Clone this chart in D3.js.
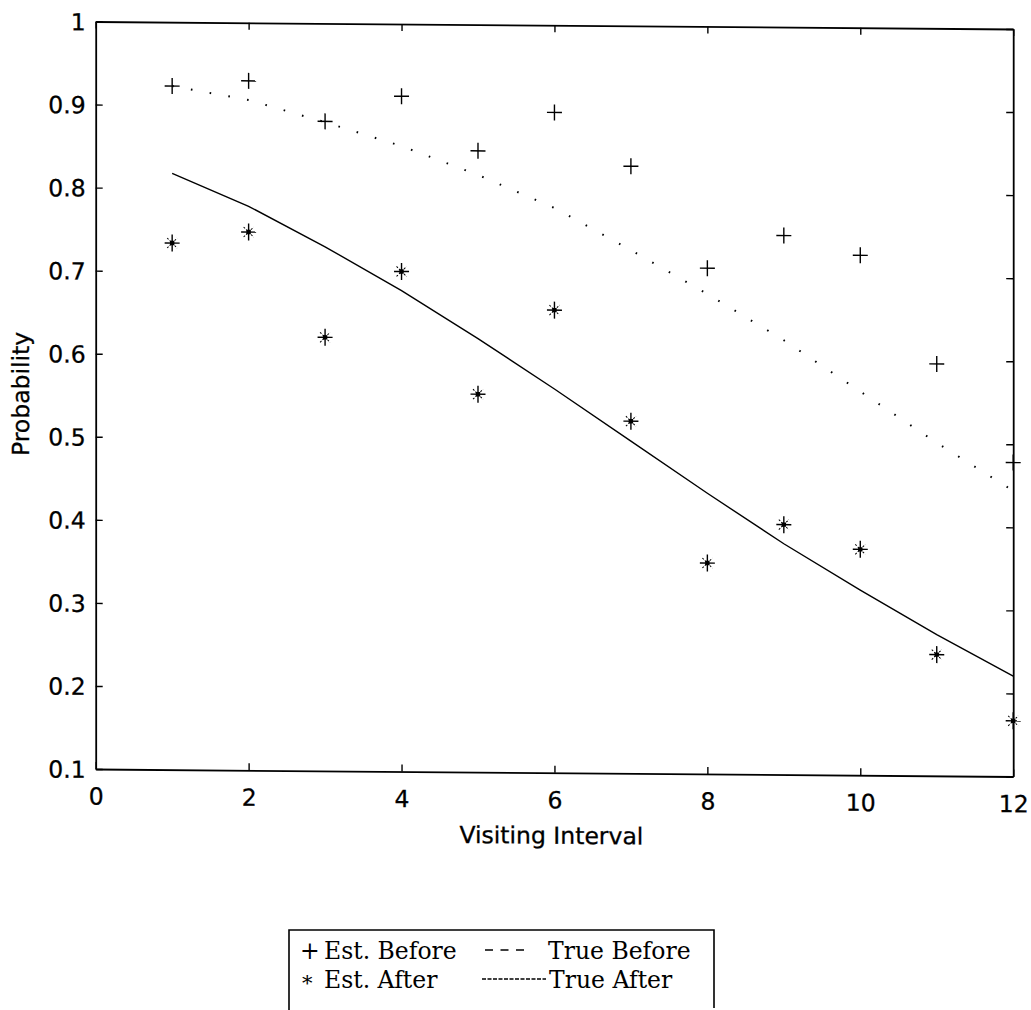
<!DOCTYPE html>
<html>
<head>
<meta charset="utf-8">
<script src="https://cdn.jsdelivr.net/npm/d3@7"></script>
<style>
  body { margin: 0; background: #fff; }
  .axis text { font-family: "DejaVu Sans", sans-serif; font-size: 23.5px; fill: #000; }
  .axis path, .axis line { stroke: #000; }
  .legend text { font-family: "DejaVu Serif", serif; font-size: 23.5px; fill: #000; }
</style>
</head>
<body>
<div id="chart"></div>
<script>
// data
var intervals = [1, 2, 3, 4, 5, 6, 7, 8, 9, 10, 11, 12];
var estBefore = [0.923, 0.930, 0.882, 0.913, 0.848, 0.895, 0.831, 0.709, 0.749, 0.726, 0.596, 0.478];
var estAfter = [0.734, 0.748, 0.622, 0.702, 0.555, 0.657, 0.524, 0.354, 0.401, 0.372, 0.246, 0.167];
var trueBefore = [0.923, 0.907, 0.881, 0.853, 0.819, 0.780, 0.730, 0.678, 0.623, 0.562, 0.501, 0.444];
var trueAfter = [0.818, 0.779, 0.731, 0.679, 0.622, 0.562, 0.500, 0.438, 0.378, 0.323, 0.270, 0.221];

var xTicks = [0, 2, 4, 6, 8, 10, 12];
var yTicks = [0.1, 0.2, 0.3, 0.4, 0.5, 0.6, 0.7, 0.8, 0.9, 1];
var yTickLabels = ["0.1", "0.2", "0.3", "0.4", "0.5", "0.6", "0.7", "0.8", "0.9", "1"];

var svgWidth = 1031;
var svgHeight = 1010;

var margin = { top: 20.7, left: 95.7 };
var width = 917.5;
var height = 747.5;

var svg = d3.select("#chart")
  .append("svg")
  .attr("width", svgWidth)
  .attr("height", svgHeight);

// the scanned figure is slightly sheared, so tilt the plot a touch
var page = svg.append("g").attr("transform", "skewY(0.47)");

var chartGroup = page.append("g")
  .attr("transform", `translate(${margin.left}, ${margin.top})`);

// scales
var xScale = d3.scaleLinear().domain([0, 12]).range([0, width]);
var yScale = d3.scaleLinear().domain([0.1, 1]).range([height, 0]);

// axes with inward ticks on all four sides
var bottomAxis = d3.axisBottom(xScale).tickValues(xTicks).tickFormat(d3.format("d"))
  .tickSizeInner(-7).tickSizeOuter(0).tickPadding(19);
var topAxis = d3.axisTop(xScale).tickValues(xTicks).tickFormat("")
  .tickSizeInner(-7).tickSizeOuter(0);
var leftAxis = d3.axisLeft(yScale).tickValues(yTicks).tickFormat((d, i) => yTickLabels[i])
  .tickSizeInner(-7).tickSizeOuter(0).tickPadding(10);
var rightAxis = d3.axisRight(yScale).tickValues(yTicks).tickFormat("")
  .tickSizeInner(-7).tickSizeOuter(0);

chartGroup.append("g").attr("class", "axis")
  .attr("transform", `translate(0, ${height})`).call(bottomAxis);
chartGroup.append("g").attr("class", "axis").call(topAxis);
chartGroup.append("g").attr("class", "axis").call(leftAxis);
chartGroup.append("g").attr("class", "axis")
  .attr("transform", `translate(${width}, 0)`).call(rightAxis);

chartGroup.selectAll(".axis path").attr("stroke-width", 1.8);
chartGroup.selectAll(".axis line").attr("stroke-width", 1.4);
chartGroup.selectAll(".axis .tick text")
  .style("stroke", "#000").style("stroke-width", 0.3)
  .attr("dy", function() {
    return d3.select(this).attr("dy") === "0.71em" ? "0.71em" : "0.36em";
  });

// lines
var line = d3.line()
  .x((d, i) => xScale(intervals[i]))
  .y(d => yScale(d));

chartGroup.append("path")
  .datum(trueBefore)
  .attr("d", line)
  .attr("fill", "none")
  .attr("stroke", "#000")
  .attr("stroke-width", 2)
  .attr("stroke-dasharray", "1.6,17.4");

chartGroup.append("path")
  .datum(trueAfter)
  .attr("d", line)
  .attr("fill", "none")
  .attr("stroke", "#000")
  .attr("stroke-width", 1.4);

// plus markers
var plus = chartGroup.selectAll(".plus")
  .data(estBefore)
  .enter()
  .append("g")
  .attr("class", "plus")
  .attr("transform", (d, i) => `translate(${xScale(intervals[i])}, ${yScale(d)})`);
plus.append("line").attr("x1", -7.5).attr("x2", 7.5).attr("y1", 0).attr("y2", 0);
plus.append("line").attr("x1", 0).attr("x2", 0).attr("y1", -8).attr("y2", 8);
plus.selectAll("line").attr("stroke", "#000").attr("stroke-width", 1.4);

// star markers
var star = chartGroup.selectAll(".star")
  .data(estAfter)
  .enter()
  .append("g")
  .attr("class", "star")
  .attr("transform", (d, i) => `translate(${xScale(intervals[i])}, ${yScale(d)})`);
star.append("line").attr("x1", -7.5).attr("x2", 7.5).attr("y1", 0).attr("y2", 0)
  .attr("stroke-width", 1.4);
star.append("line").attr("x1", 0).attr("x2", 0).attr("y1", -8.5).attr("y2", 8.5)
  .attr("stroke-width", 1.4);
star.append("line").attr("x1", -5).attr("x2", 5).attr("y1", -5).attr("y2", 5)
  .attr("stroke-width", 1).attr("stroke-dasharray", "2,1.5");
star.append("line").attr("x1", -5).attr("x2", 5).attr("y1", 5).attr("y2", -5)
  .attr("stroke-width", 1).attr("stroke-dasharray", "2,1.5");
star.selectAll("line").attr("stroke", "#000");
star.append("rect").attr("x", -2.2).attr("y", -2.2).attr("width", 4.4).attr("height", 4.4)
  .attr("fill", "#000");

// axis labels
chartGroup.append("text")
  .attr("x", width / 2 - 3)
  .attr("y", height + 71)
  .attr("text-anchor", "middle")
  .style("font-family", "DejaVu Sans, sans-serif")
  .style("font-size", "23.5px")
  .style("stroke", "#000").style("stroke-width", 0.3)
  .text("Visiting Interval");

chartGroup.append("text")
  .attr("transform", `translate(${29 - margin.left}, 373) rotate(-90)`)
  .attr("text-anchor", "middle")
  .style("font-family", "DejaVu Sans, sans-serif")
  .style("font-size", "23.5px")
  .style("stroke", "#000").style("stroke-width", 0.3)
  .text("Probability");

// legend box (bottom runs off the page)
var legend = svg.append("g").attr("class", "legend");
legend.append("path")
  .attr("d", "M289,1010 V930 H714 V1008")
  .attr("fill", "none")
  .attr("stroke", "#000")
  .attr("stroke-width", 1.6);

legend.append("text").attr("x", 300).attr("y", 959).text("+");
legend.append("text").attr("x", 324).attr("y", 959).text("Est. Before");
legend.append("text").attr("x", 302).attr("y", 990).style("font-size", "21px").text("*");
legend.append("text").attr("x", 324).attr("y", 988).text("Est. After");

legend.append("line")
  .attr("x1", 485).attr("x2", 524).attr("y1", 950).attr("y2", 950)
  .attr("stroke", "#000").attr("stroke-width", 1.6)
  .attr("stroke-dasharray", "8,7.5");
legend.append("text").attr("x", 548).attr("y", 959).text("True Before");

legend.append("line")
  .attr("x1", 482).attr("x2", 546).attr("y1", 979).attr("y2", 979)
  .attr("stroke", "#000").attr("stroke-width", 1.3)
  .attr("stroke-dasharray", "4,1.5");
legend.append("text").attr("x", 549).attr("y", 988).text("True After");
</script>
</body>
</html>
